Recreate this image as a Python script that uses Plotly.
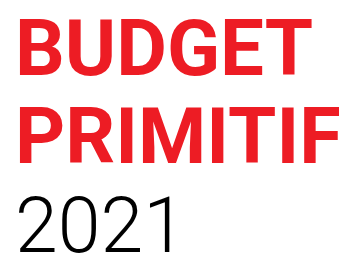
import plotly.graph_objects as go

lines = ["BUDGET", "PRIMITIF", "2021"]
colors = ["#ED1C24", "#ED1C24", "#000000"]
weights = [700, 700, 300]
sizes = [78, 78, 77]
ypix = [48, 136.5, 225.5]

OFF = 8  # default page body margin
W, H = 347 - OFF, 260 - OFF
fig = go.Figure()
for t, c, w, s, yp in zip(lines, colors, weights, sizes, ypix):
    fig.add_annotation(
        text=t, xref="paper", yref="paper", x=(15 - OFF) / W, y=1 - (yp - OFF) / H,
        xanchor="left", yanchor="middle", showarrow=False,
        font=dict(family="Roboto", size=s, color=c, weight=w),
        borderpad=0, borderwidth=0,
    )
fig.update_layout(
    width=W, height=H, margin=dict(l=0, r=0, t=0, b=0),
    paper_bgcolor="white", plot_bgcolor="white",
    xaxis=dict(visible=False), yaxis=dict(visible=False),
    showlegend=False,
)
fig.write_html("out.html")
